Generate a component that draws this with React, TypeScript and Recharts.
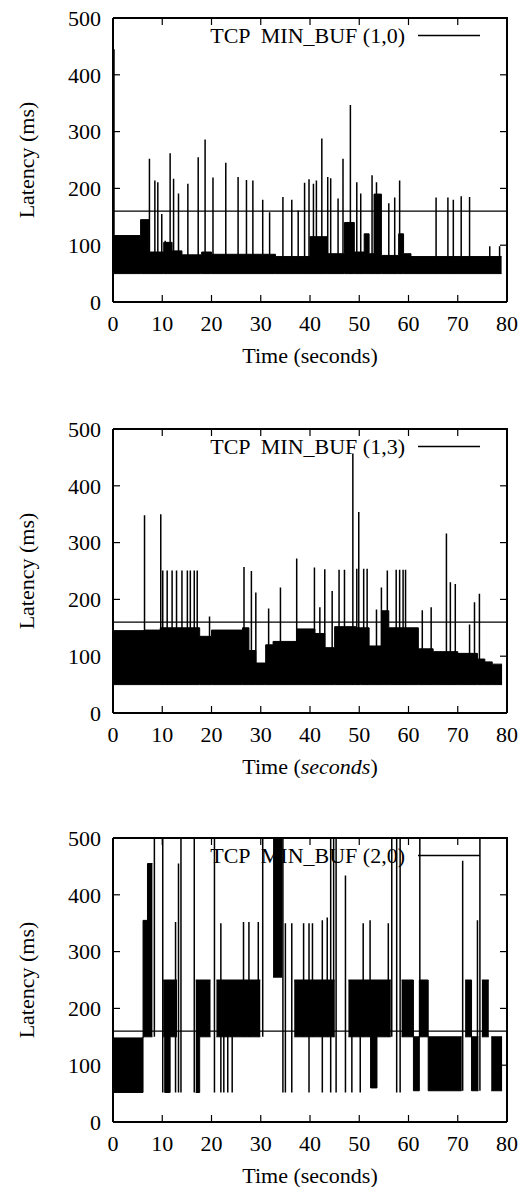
import { ComposedChart, Area, Line, XAxis, YAxis, ReferenceLine } from 'recharts';

const FONT = '"Liberation Serif", "Times New Roman", serif';

const xTicks = [0, 10, 20, 30, 40, 50, 60, 70, 80];
const yTicks = [0, 100, 200, 300, 400, 500];
const threshold = 160;

// panel 1: TCP MIN_BUF (1,0)
const p1Edges = [0, 5.6, 7.3, 10.3, 12.0, 14.0, 18.0, 20.0, 33.0, 40.0, 43.5, 47.0, 49.0, 51.0, 52.0, 53.0, 54.5, 58.0, 59.0, 60.5, 78.9];
const p1Tops = [117, 145, 88, 105, 90, 83, 88, 84, 80, 115, 85, 140, 88, 120, 85, 190, 82, 120, 85, 80];
const p1Floor = 50;
const p1SpikeTimes = [0.2, 7.4, 8.5, 9.1, 9.9, 10.6, 11.6, 12.3, 13.3, 15.2, 17.3, 18.7, 20.3, 22.9, 25.4, 27.1, 28.4, 30.4, 31.8, 34.5, 36.3, 37.6, 38.9, 39.8, 40.7, 41.3, 42.4, 43.6, 44.2, 45.7, 46.7, 48.2, 49.5, 50.3, 52.6, 53.5, 56.0, 57.2, 58.2, 65.6, 68.0, 69.1, 70.7, 72.4, 76.5, 78.5];
const p1SpikePeaks = [445, 252, 214, 211, 155, 108, 262, 217, 191, 208, 255, 286, 219, 245, 220, 215, 214, 180, 158, 185, 180, 161, 210, 216, 208, 214, 288, 220, 218, 182, 252, 347, 211, 191, 223, 211, 174, 184, 214, 184, 184, 180, 186, 185, 98, 98];

// panel 2: TCP MIN_BUF (1,3)
const p2Edges = [0, 6.4, 9.6, 17.6, 20.0, 26.3, 27.6, 29.0, 31.0, 32.5, 37.3, 41.0, 43.0, 45.0, 49.3, 50.3, 52.0, 54.5, 56.0, 62.0, 65.0, 70.0, 74.0, 75.5, 77.0, 79.0];
const p2Tops = [145, 146, 150, 135, 146, 150, 110, 88, 120, 126, 148, 140, 115, 152, 150, 150, 118, 180, 150, 113, 108, 105, 95, 90, 86];
const p2Floor = 50;
const p2SpikeTimes = [6.4, 9.7, 10.1, 11.0, 12.0, 12.9, 14.0, 15.1, 15.7, 16.5, 17.1, 19.6, 26.6, 28.1, 29.0, 31.6, 34.0, 37.3, 40.9, 42.0, 43.0, 44.5, 45.9, 47.0, 48.7, 49.5, 49.9, 50.9, 51.6, 53.5, 54.5, 55.7, 57.5, 58.2, 58.9, 59.4, 62.8, 64.6, 67.7, 68.5, 69.5, 72.4, 73.4, 74.4];
const p2SpikePeaks = [348, 350, 251, 251, 251, 251, 251, 251, 251, 251, 251, 170, 257, 250, 212, 184, 221, 272, 256, 186, 253, 215, 252, 252, 457, 254, 354, 254, 254, 182, 221, 251, 252, 252, 252, 252, 181, 186, 316, 230, 227, 156, 195, 210];

// panel 3: TCP MIN_BUF (2,0), null = no dense block
const p3Edges = [0, 6.1, 7.0, 8.0, 10.2, 10.5, 11.6, 13.0, 16.8, 17.6, 19.8, 21.0, 29.9, 32.5, 34.4, 36.8, 45.0, 47.8, 52.3, 53.6, 56.4, 58.6, 61.0, 62.2, 64.0, 70.8, 71.5, 72.8, 74.2, 74.9, 76.3, 76.8, 79.0];
const p3Lows = [52, 150, 150, null, 150, 52, 150, null, 52, 150, null, 150, null, 255, null, 150, null, 150, 60, 150, null, 150, 55, 150, 55, null, 150, 55, null, 150, null, 55];
const p3Highs = [148, 355, 455, null, 250, 250, 250, null, 250, 250, null, 250, null, 500, null, 250, null, 250, 250, 250, null, 250, 150, 250, 150, null, 250, 150, null, 250, null, 150];
const p3SpikeTimes = [8.4, 10.1, 12.7, 13.3, 13.8, 16.5, 20.6, 21.9, 22.5, 23.3, 24.2, 26.5, 27.6, 29.5, 30.4, 34.5, 35.0, 36.3, 38.7, 39.8, 40.5, 42.5, 43.5, 44.2, 44.8, 45.3, 47.2, 48.5, 50.2, 50.8, 52.2, 55.9, 56.6, 57.6, 58.3, 62.3, 71.0, 74.0, 74.5];
const p3SpikeLows = [150, 52, 52, 52, 52, 52, 52, 52, 52, 52, 52, 150, 150, 150, 150, 52, 52, 52, 150, 52, 150, 52, 150, 52, 150, 52, 52, 52, 52, 150, 150, 150, 150, 52, 52, 150, 55, 150, 55];
const p3SpikeHighs = [500, 500, 352, 455, 500, 500, 500, 350, 250, 250, 250, 352, 352, 352, 500, 500, 350, 350, 350, 350, 350, 355, 360, 500, 500, 500, 434, 250, 250, 350, 355, 350, 500, 500, 500, 500, 460, 355, 500];

type Row = { t: number; band?: [number, number] | null; v?: number | null };

function buildBand(edges: number[], lows: number | (number | null)[], highs: (number | null)[]): Row[] {
  const rows: Row[] = [];
  highs.forEach((hi, i) => {
    const lo = typeof lows === 'number' ? lows : lows[i];
    if (hi == null || lo == null) {
      rows.push({ t: edges[i], band: null });
    } else {
      rows.push({ t: edges[i], band: [lo, hi] });
      rows.push({ t: edges[i + 1], band: [lo, hi] });
    }
  });
  return rows;
}

function buildSpikes(times: number[], lows: number | number[], highs: number[]): Row[] {
  return times.flatMap((t, i) => {
    const lo = typeof lows === 'number' ? lows : lows[i];
    return [
      { t, v: lo },
      { t, v: highs[i] },
      { t, v: null },
    ];
  });
}

const panels = [
  { name: '(1,0)', band: buildBand(p1Edges, p1Floor, p1Tops), spikes: buildSpikes(p1SpikeTimes, p1Floor, p1SpikePeaks), italic: false },
  { name: '(1,3)', band: buildBand(p2Edges, p2Floor, p2Tops), spikes: buildSpikes(p2SpikeTimes, p2Floor, p2SpikePeaks), italic: true },
  { name: '(2,0)', band: buildBand(p3Edges, p3Lows, p3Highs), spikes: buildSpikes(p3SpikeTimes, p3SpikeLows, p3SpikeHighs), italic: false },
];

const W = 521;
const H = 367;
const LEFT = 113;
const TOP = 18;
const RIGHT = 14;
const PLOT_W = W - LEFT - RIGHT;
const PLOT_H = 284;
const PLOT_R = LEFT + PLOT_W;
const X_MAX = 80;
const Y_MAX = 500;

const tickStyle = { fill: '#000', fontSize: 22, fontFamily: FONT };
const axisStroke = { stroke: '#000', strokeWidth: 2 };

function Panel({ name, band, spikes, italic }: { name: string; band: Row[]; spikes: Row[]; italic: boolean }) {
  const midY = TOP + PLOT_H / 2;
  return (
    <ComposedChart width={W} height={H} margin={{ top: TOP, right: RIGHT, bottom: 0, left: 0 }}>
      <XAxis dataKey="t" type="number" domain={[0, X_MAX]} ticks={xTicks} allowDataOverflow height={H - TOP - PLOT_H}
        tickSize={-7} tickMargin={20} tick={tickStyle} axisLine={axisStroke} tickLine={{ stroke: '#000', strokeWidth: 1.2 }} />
      <YAxis type="number" domain={[0, Y_MAX]} ticks={yTicks} allowDataOverflow width={LEFT}
        tickSize={-7} tickMargin={19} tick={tickStyle} axisLine={axisStroke} tickLine={{ stroke: '#000', strokeWidth: 1.2 }} />

      <text x={26} y={midY} transform={`rotate(-90 26 ${midY})`} textAnchor="middle" dominantBaseline="central"
        fontFamily={FONT} fontSize={22} fill="#000">Latency (ms)</text>
      <text x={LEFT + PLOT_W / 2} y={TOP + PLOT_H + 53} textAnchor="middle" dominantBaseline="central"
        fontFamily={FONT} fontSize={22} fill="#000">
        Time (<tspan fontStyle={italic ? 'italic' : 'normal'}>seconds</tspan>)
      </text>
      <text x={405} y={TOP + 25} textAnchor="end" fontFamily={FONT} fontSize={22} fill="#000" style={{ whiteSpace: 'pre' }}>
        {`TCP  MIN_BUF ${name}`}
      </text>
      <line x1={418} x2={480} y1={TOP + 17.5} y2={TOP + 17.5} stroke="#000" strokeWidth={1.3} />

      <ReferenceLine y={threshold} stroke="#000" strokeWidth={1.3} />
      <Area data={band} dataKey="band" type="stepAfter" stroke="#000" strokeWidth={1} fill="#000" fillOpacity={1}
        dot={false} activeDot={false} connectNulls={false} isAnimationActive={false} />
      <Line data={spikes} dataKey="v" type="linear" stroke="#000" strokeWidth={1.5}
        dot={false} activeDot={false} connectNulls={false} isAnimationActive={false} />

      {/* plot box: top and right edges, drawn as plain svg children */}
      <line x1={LEFT} x2={PLOT_R + 1} y1={TOP} y2={TOP} stroke="#000" strokeWidth={2} />
      <line x1={PLOT_R} x2={PLOT_R} y1={TOP} y2={TOP + PLOT_H} stroke="#000" strokeWidth={2} />
      {xTicks.map((t) => (
        <line key={`xt${t}`} x1={LEFT + (t / X_MAX) * PLOT_W} x2={LEFT + (t / X_MAX) * PLOT_W}
          y1={TOP} y2={TOP + 7} stroke="#000" strokeWidth={1.2} />
      ))}
      {yTicks.map((v) => (
        <line key={`yt${v}`} x1={PLOT_R - 7} x2={PLOT_R} y1={TOP + PLOT_H - (v / Y_MAX) * PLOT_H}
          y2={TOP + PLOT_H - (v / Y_MAX) * PLOT_H} stroke="#000" strokeWidth={1.2} />
      ))}
    </ComposedChart>
  );
}

export default function App() {
  const tops = [0, 411, 820];
  return (
    <div style={{ position: 'absolute', left: 0, top: 0, width: 521, height: 1187, background: '#fff' }}>
      {panels.map((p, i) => (
        <div key={p.name} style={{ position: 'absolute', left: 0, top: tops[i] }}>
          <Panel name={p.name} band={p.band} spikes={p.spikes} italic={p.italic} />
        </div>
      ))}
    </div>
  );
}
